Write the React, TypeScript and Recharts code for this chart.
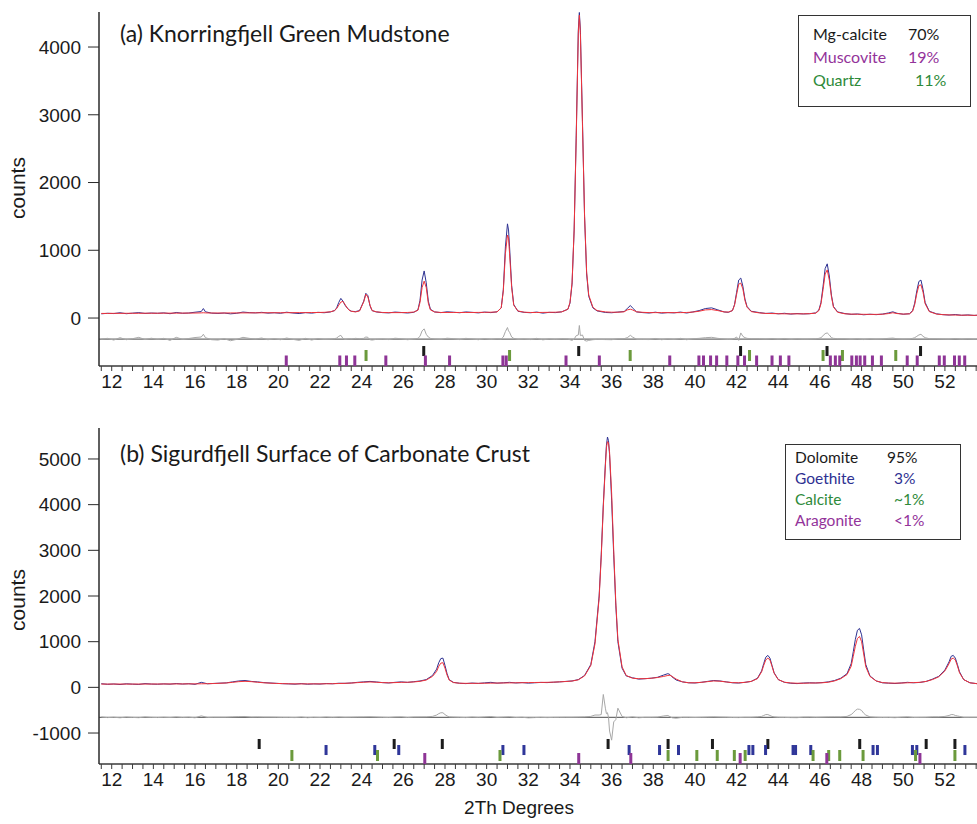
import { ComposedChart, Line, Scatter, XAxis, YAxis, ReferenceLine } from "recharts";

// ---------- panel (a) Knorringfjell Green Mudstone ----------
const twoThetaA = [
  11.5, 11.8, 12.1, 12.4, 12.7, 13.0, 13.3, 13.6, 13.9, 14.2,
  14.5, 14.8, 15.1, 15.4, 15.7, 16.0, 16.3, 16.4, 16.5, 16.8,
  17.1, 17.4, 17.7, 18.0, 18.3, 18.6, 18.9, 19.2, 19.5, 19.8,
  20.1, 20.4, 20.7, 21.0, 21.3, 21.6, 21.9, 22.2, 22.5, 22.7,
  22.8, 22.9, 23.0, 23.1, 23.2, 23.3, 23.4, 23.5, 23.7, 23.9,
  24.1, 24.2, 24.3, 24.4, 24.5, 24.7, 25.0, 25.3, 25.6, 25.9,
  26.2, 26.5, 26.7, 26.8, 26.9, 27.0, 27.1, 27.2, 27.3, 27.5,
  27.8, 28.1, 28.4, 28.7, 29.0, 29.3, 29.6, 29.9, 30.2, 30.5,
  30.7, 30.8, 30.9, 31.0, 31.05, 31.1, 31.2, 31.3, 31.5, 31.8,
  32.1, 32.4, 32.7, 33.0, 33.3, 33.6, 33.9, 34.0, 34.1, 34.2,
  34.3, 34.4, 34.45, 34.5, 34.6, 34.7, 34.8, 34.9, 35.1, 35.3,
  35.7, 36.0, 36.3, 36.6, 36.75, 36.9, 37.0, 37.2, 37.5, 37.8,
  38.1, 38.4, 38.7, 39.0, 39.3, 39.6, 39.9, 40.2, 40.5, 40.8,
  41.1, 41.4, 41.6, 41.8, 41.9, 42.0, 42.1, 42.2, 42.3, 42.4,
  42.5, 42.7, 43.1, 43.4, 43.7, 44.0, 44.3, 44.6, 44.9, 45.2,
  45.5, 45.8, 45.95, 46.05, 46.15, 46.25, 46.35, 46.45, 46.55, 46.65,
  46.85, 47.2, 47.5, 47.8, 48.1, 48.4, 48.7, 49.0, 49.3, 49.5,
  49.7, 50.0, 50.3, 50.45, 50.55, 50.65, 50.75, 50.85, 50.95, 51.05,
  51.25, 51.6, 51.9, 52.2, 52.5, 52.8, 53.1, 53.4, 53.55,
];
const observedA = [
  62, 70, 66, 78, 64, 72, 80, 68, 74, 70,
  76, 64, 82, 70, 74, 86, 96, 140, 92, 72,
  68, 74, 62, 70, 88, 80, 76, 84, 72, 78,
  70, 86, 74, 66, 80, 72, 84, 78, 90, 110,
  150, 230, 290, 250, 190, 150, 120, 100, 95, 110,
  250, 365, 330, 180, 110, 90, 80, 76, 88, 82,
  74, 84, 120, 260, 560, 695, 520, 250, 130, 90,
  80, 92, 86, 78, 90, 84, 76, 88, 80, 92,
  150, 420, 1050, 1390, 1300, 1050, 480, 200, 100, 84,
  78, 88, 72, 84, 80, 92, 130, 220, 500, 1300,
  2700, 4250, 4510, 4250, 2900, 1500, 650, 320, 150, 105,
  82, 78, 88, 96, 140, 185, 150, 90, 80, 74,
  86, 72, 80, 76, 88, 74, 90, 110, 140, 150,
  120, 90, 84, 110, 200, 380, 560, 590, 470, 280,
  170, 100, 80, 68, 74, 62, 70, 58, 66, 60,
  64, 76, 120, 230, 470, 730, 800, 620, 340, 170,
  90, 66, 54, 60, 48, 56, 50, 58, 76, 92,
  70, 56, 64, 110, 220, 400, 540, 560, 420, 230,
  100, 62, 50, 44, 52, 40, 46, 38, 42,
];
const calculatedA = [
  68, 68, 69, 69, 70, 70, 70, 71, 71, 71,
  72, 72, 72, 73, 73, 74, 76, 78, 76, 74,
  74, 74, 75, 75, 76, 76, 77, 77, 78, 78,
  78, 79, 79, 80, 80, 81, 82, 84, 92, 110,
  140, 190, 235, 245, 200, 150, 115, 100, 90, 105,
  240, 350, 310, 190, 110, 92, 82, 80, 80, 80,
  82, 88, 115, 230, 450, 545, 450, 220, 120, 90,
  82, 82, 82, 82, 82, 82, 83, 84, 86, 90,
  150, 400, 950, 1225, 1180, 950, 450, 190, 105, 86,
  82, 82, 83, 84, 86, 90, 130, 230, 520, 1300,
  2650, 4200, 4470, 4200, 2850, 1520, 680, 340, 160, 110,
  90, 86, 86, 92, 120, 130, 120, 92, 84, 80,
  80, 80, 80, 80, 80, 82, 88, 100, 120, 125,
  110, 90, 88, 110, 190, 350, 500, 515, 430, 260,
  160, 95, 75, 68, 66, 64, 62, 62, 62, 62,
  64, 72, 110, 210, 420, 650, 710, 560, 320, 160,
  85, 62, 58, 56, 55, 54, 54, 56, 66, 78,
  66, 58, 62, 100, 200, 360, 480, 490, 380, 210,
  95, 58, 50, 46, 44, 42, 42, 40, 40,
];
const differenceA = [
  0, 10, -15, 20, -10, 5, 25, -8, 12, -5,
  10, -20, 25, -5, 8, 22, 30, 70, 20, -10,
  -15, 5, -25, -5, 25, 10, 0, 15, -10, 5,
  -10, 15, -5, -20, 10, -15, 8, -5, 0, 5,
  15, 40, 55, 10, -5, 0, 5, 0, 10, 5,
  10, 30, 25, -10, -15, -5, 0, -8, 12, 4,
  -10, 0, 10, 40, 120, 150, 70, 30, 10, 0,
  -5, 12, 5, -8, 10, 2, -10, 6, -6, 4,
  0, 30, 110, 170, 120, 100, 30, 10, -5, 0,
  -8, 10, -12, 2, -6, 4, 0, -10, -20, 0,
  50, 60, 200, 50, 60, -20, -30, -20, -10, -5,
  -8, -10, 4, 6, 20, 55, 30, -5, -6, -8,
  8, -10, 2, -6, 10, -10, 4, 10, 20, 25,
  10, 0, -6, 0, 10, 30, -20, 90, 40, 20,
  10, 5, 5, 0, 8, -2, 8, -4, 4, -2,
  0, 4, 10, 20, 50, 80, 90, 60, 20, 10,
  5, 4, -4, 4, -8, 2, -4, 2, 10, 14,
  4, -2, 2, 10, 20, 40, 60, 70, 40, 20,
  5, 4, 0, -2, 8, -2, 4, -2, 2,
];
const mgCalciteTicks = [26.98, 34.42, 42.19, 46.34, 50.83];
const muscoviteTicks = [
  20.38, 22.95, 23.27, 23.67, 25.16, 27.06, 28.22, 30.78, 30.94, 33.81,
  35.41, 38.79, 40.19, 40.41, 40.75, 41.04, 41.53, 42.06, 42.38, 42.96,
  43.7, 44.1, 44.51, 46.5, 46.74, 46.95, 47.53, 47.75, 47.93, 48.15,
  48.52, 48.95, 50.19, 50.67, 51.73, 51.97, 52.46, 52.69, 52.95,
];
const quartzTicks = [24.21, 31.1, 36.89, 42.62, 46.15, 47.08, 49.64];

// ---------- panel (b) Sigurdfjell Surface of Carbonate Crust ----------
const twoThetaB = [
  11.5, 11.8, 12.1, 12.4, 12.7, 13.0, 13.3, 13.6, 13.9, 14.2,
  14.5, 14.8, 15.1, 15.4, 15.7, 16.0, 16.3, 16.6, 16.9, 17.2,
  17.5, 17.8, 18.1, 18.4, 18.7, 19.0, 19.3, 19.6, 19.9, 20.2,
  20.5, 20.8, 21.1, 21.4, 21.7, 22.0, 22.3, 22.6, 22.9, 23.2,
  23.5, 23.8, 24.1, 24.4, 24.7, 25.0, 25.3, 25.6, 25.9, 26.2,
  26.5, 26.8, 27.1, 27.4, 27.6, 27.7, 27.8, 27.9, 28.0, 28.1,
  28.2, 28.4, 28.7, 29.0, 29.3, 29.6, 29.9, 30.2, 30.5, 30.8,
  31.1, 31.4, 31.7, 32.0, 32.3, 32.6, 32.9, 33.2, 33.5, 33.8,
  34.1, 34.4, 34.7, 35.0, 35.2, 35.4, 35.5, 35.6, 35.7, 35.75,
  35.8, 35.85, 35.9, 36.0, 36.1, 36.2, 36.3, 36.5, 36.7, 37.0,
  37.3, 37.6, 37.9, 38.2, 38.5, 38.7, 38.8, 38.9, 39.1, 39.4,
  39.7, 40.0, 40.3, 40.6, 40.9, 41.2, 41.5, 41.8, 42.1, 42.4,
  42.7, 43.0, 43.2, 43.3, 43.4, 43.5, 43.6, 43.7, 43.8, 44.0,
  44.3, 44.6, 44.9, 45.2, 45.5, 45.8, 46.1, 46.4, 46.7, 47.0,
  47.3, 47.5, 47.6, 47.7, 47.8, 47.9, 48.0, 48.1, 48.2, 48.4,
  48.7, 49.0, 49.3, 49.6, 49.9, 50.2, 50.5, 50.8, 51.1, 51.4,
  51.7, 52.0, 52.2, 52.3, 52.4, 52.5, 52.6, 52.7, 52.9, 53.2,
  53.55,
];
const observedB = [
  80, 66, 74, 62, 78, 70, 64, 82, 72, 68,
  76, 70, 84, 72, 80, 66, 110, 78, 86, 92,
  98, 120, 140, 150, 130, 120, 104, 96, 88, 80,
  76, 70, 82, 68, 76, 72, 84, 78, 90, 88,
  96, 110, 120, 130, 118, 104, 96, 110, 120, 108,
  124, 140, 170, 260, 400, 540, 630, 640, 480, 300,
  170, 110, 90, 82, 94, 86, 98, 110, 92, 100,
  110, 96, 104, 92, 100, 108, 104, 112, 120, 130,
  140, 170, 260, 500, 1000, 2000, 2900, 4000, 4900, 5300,
  5480, 5400, 5100, 4100, 2900, 1800, 1000, 420, 250, 210,
  180, 190, 200, 220, 270, 300, 280, 230, 160, 120,
  100, 96, 110, 130, 150, 140, 120, 100, 94, 110,
  130, 200, 360, 520, 660, 700, 640, 480, 320, 170,
  110, 90, 82, 94, 100, 96, 104, 120, 150, 200,
  300, 520, 780, 1050, 1250, 1290, 1150, 820, 500, 250,
  140, 100, 92, 84, 96, 110, 100, 108, 130, 180,
  240, 380, 560, 680, 700, 640, 500, 340, 170, 100,
  80,
];
const calculatedB = [
  72, 72, 72, 72, 72, 72, 72, 73, 73, 73,
  74, 74, 75, 75, 76, 76, 78, 80, 84, 90,
  96, 110, 125, 132, 125, 112, 100, 92, 86, 82,
  78, 76, 76, 76, 76, 76, 78, 80, 84, 88,
  94, 104, 112, 118, 112, 104, 100, 104, 110, 112,
  118, 132, 160, 240, 350, 460, 530, 540, 420, 270,
  160, 105, 90, 88, 88, 88, 90, 92, 94, 96,
  98, 100, 102, 104, 106, 108, 110, 114, 120, 128,
  138, 165, 250, 480, 950, 1950, 2850, 3950, 4850, 5250,
  5380, 5350, 5150, 4250, 3000, 1850, 1050, 450, 260, 200,
  190, 190, 200, 215, 240, 260, 265, 240, 180, 120,
  100, 100, 110, 125, 140, 135, 118, 104, 100, 110,
  130, 190, 340, 480, 600, 640, 600, 460, 310, 170,
  112, 96, 90, 90, 94, 96, 100, 112, 140, 190,
  280, 460, 680, 900, 1070, 1115, 1000, 730, 450, 240,
  140, 104, 94, 92, 94, 100, 104, 110, 130, 170,
  230, 360, 520, 620, 640, 600, 470, 320, 170, 100,
  80,
];
const differenceB = [
  8, -6, 2, -10, 6, -2, -8, 9, -1, -5,
  2, -4, 9, -3, 4, -10, 32, -2, 2, 2,
  2, 10, 15, 18, 5, 8, 4, 4, 2, -2,
  -2, -6, 6, -8, 0, -4, 6, -2, 6, 0,
  2, 6, 8, 12, 6, 0, -4, 6, 10, -4,
  6, 8, 10, 20, 50, 80, 100, 100, 60, 30,
  10, 5, 0, -6, 6, -2, 8, 18, -2, 4,
  12, -4, 2, -12, -6, 0, -6, -2, 0, 2,
  2, 5, 10, 20, 50, 50, 60, 500, 200, 80,
  100, 0, -300, -500, -100, -50, 200, 20, -10, 10,
  -10, 0, 0, 5, 30, 40, 15, -10, -20, 0,
  0, -4, 0, 5, 10, 5, 2, -4, -6, 0,
  0, 10, 20, 40, 60, 60, 40, 20, 10, 0,
  -2, -6, -8, 4, 6, 0, 4, 8, 10, 10,
  20, 60, 100, 150, 180, 175, 150, 90, 50, 10,
  0, -4, -2, -8, 2, 10, -4, -2, 0, 10,
  10, 20, 40, 60, 60, 40, 30, 20, 0, 0,
  0,
];
const dolomiteTicks = [19.08, 25.56, 27.87, 35.83, 38.71, 40.84, 43.5, 47.91, 51.1, 52.48];
const goethiteTicks = [
  22.29, 24.63, 25.78, 30.78, 31.79, 36.84, 38.3, 39.21, 42.59, 42.78,
  43.39, 44.71, 44.83, 45.56, 48.55, 48.76, 50.44, 50.65, 52.96,
];
const calciteTicks = [20.65, 24.76, 30.64, 38.71, 40.09, 41.07, 41.89, 42.41, 45.67, 46.42, 46.95, 48.07, 50.59, 52.48];
const aragoniteTicks = [27.03, 34.42, 36.92, 42.17, 46.33, 50.8];

// axis ticks
const xTicks = [
  11.5, 12, 12.5, 13, 13.5, 14, 14.5, 15, 15.5, 16, 16.5, 17, 17.5, 18, 18.5, 19, 19.5, 20, 20.5, 21, 21.5,
  22, 22.5, 23, 23.5, 24, 24.5, 25, 25.5, 26, 26.5, 27, 27.5, 28, 28.5, 29, 29.5, 30, 30.5, 31, 31.5,
  32, 32.5, 33, 33.5, 34, 34.5, 35, 35.5, 36, 36.5, 37, 37.5, 38, 38.5, 39, 39.5, 40, 40.5, 41, 41.5,
  42, 42.5, 43, 43.5, 44, 44.5, 45, 45.5, 46, 46.5, 47, 47.5, 48, 48.5, 49, 49.5, 50, 50.5, 51, 51.5,
  52, 52.5, 53, 53.5,
];
const yTicksA = [0, 1000, 2000, 3000, 4000];
const yTicksB = [-1000, 0, 1000, 2000, 3000, 4000, 5000];

const X_DOMAIN = [11.39, 53.54];
const ARIAL = "'Liberation Sans', Arial, sans-serif";
const CALIBRI = "Lato, 'Open Sans', sans-serif";

type TickRow = { name: string; positions: number[]; level: number; color: string; h: number };

function Panel(props: {
  twoTheta: number[];
  observed: number[];
  calculated: number[];
  difference: number[];
  diffOffset: number;
  yDomain: number[];
  yTicks: number[];
  rows: TickRow[];
  height: number;
  top: number;
  axisHeight: number;
}) {
  const { twoTheta, observed, calculated, difference, diffOffset, yDomain, yTicks, rows, height, top, axisHeight } = props;
  const table = twoTheta.map((x, i) => ({
    x,
    obs: observed[i],
    calc: calculated[i],
    diff: diffOffset + difference[i],
  }));

  return (
    <ComposedChart width={977} height={height} data={table} margin={{ top, right: 0, bottom: 0, left: 0 }}>
      <XAxis
        dataKey="x"
        type="number"
        domain={X_DOMAIN}
        allowDataOverflow
        ticks={xTicks}
        interval={0}
        tickFormatter={(v: number) => (v % 2 === 0 ? String(v) : "")}
        tickSize={5}
        tickMargin={4}
        height={axisHeight}
        axisLine={{ stroke: "#3a3a3a", strokeWidth: 1.5 }}
        tickLine={{ stroke: "#3a3a3a" }}
        tick={{ fill: "#1a1a1a", fontSize: 19, fontFamily: ARIAL }}
      />
      <YAxis
        type="number"
        domain={yDomain}
        allowDataOverflow
        ticks={yTicks}
        interval={0}
        width={99}
        tickSize={11}
        tickMargin={7}
        axisLine={{ stroke: "#2a2a2a", strokeWidth: 1.5 }}
        tickLine={{ stroke: "#2a2a2a" }}
        tick={{ fill: "#1a1a1a", fontSize: 19, fontFamily: ARIAL }}
      />
      <ReferenceLine y={diffOffset} stroke="#6f6f6f" strokeWidth={1.3} />
      <Line type="linear" dataKey="diff" stroke="#a8a8a8" strokeWidth={1} dot={false} isAnimationActive={false} />
      <Line type="linear" dataKey="obs" stroke="#2e3192" strokeWidth={1} dot={false} isAnimationActive={false} />
      <Line type="linear" dataKey="calc" stroke="#f0333a" strokeWidth={1} dot={false} isAnimationActive={false} />
      {rows.map((r) => (
        <Scatter
          key={r.name}
          name={r.name}
          data={r.positions.map((x) => ({ x, y: r.level }))}
          dataKey="y"
          isAnimationActive={false}
          shape={(p: any) => (
            <rect x={p.cx - 1.5} y={p.cy - r.h / 2} width={3} height={r.h} fill={r.color} />
          )}
        />
      ))}
    </ComposedChart>
  );
}

const abs = (left: number, top: number, extra: any = {}) => ({ position: "absolute" as const, left, top, ...extra });

export default function App() {
  const rowsA: TickRow[] = [
    { name: "Mg-calcite", positions: mgCalciteTicks, level: -487, color: "#1c1c1c", h: 10 },
    { name: "Quartz", positions: quartzTicks, level: -553, color: "#6b9a3c", h: 11 },
    { name: "Muscovite", positions: muscoviteTicks, level: -634, color: "#8e3596", h: 11 },
  ];
  const rowsB: TickRow[] = [
    { name: "Dolomite", positions: dolomiteTicks, level: -1240, color: "#1c1c1c", h: 10 },
    { name: "Goethite", positions: goethiteTicks, level: -1372, color: "#2f3699", h: 10 },
    { name: "Calcite", positions: calciteTicks, level: -1492, color: "#6b9a3c", h: 11 },
    { name: "Aragonite", positions: aragoniteTicks, level: -1558, color: "#8e3596", h: 11 },
  ];

  return (
    <div style={{ position: "absolute", left: 0, top: 0, width: 977, height: 824, background: "#fff", overflow: "hidden" }}>
      <div style={abs(0, 0)}>
        <Panel
          twoTheta={twoThetaA}
          observed={observedA}
          calculated={calculatedA}
          difference={differenceA}
          diffOffset={-310}
          yDomain={[-708, 4517]}
          yTicks={yTicksA}
          rows={rowsA}
          height={400}
          top={12}
          axisHeight={34}
        />
      </div>
      <div style={abs(0, 400)}>
        <Panel
          twoTheta={twoThetaB}
          observed={observedB}
          calculated={calculatedB}
          difference={differenceB}
          diffOffset={-656}
          yDomain={[-1678, 5678]}
          yTicks={yTicksB}
          rows={rowsB}
          height={400}
          top={28}
          axisHeight={36}
        />
      </div>

      {/* titles */}
      <div style={abs(120, 19, { fontFamily: CALIBRI, fontSize: 23, lineHeight: "28px", color: "#1a1a1a", whiteSpace: "nowrap" })}>
        (a) Knorringfjell Green Mudstone
      </div>
      <div style={abs(120, 439, { fontFamily: CALIBRI, fontSize: 23, lineHeight: "28px", color: "#1a1a1a", whiteSpace: "nowrap" })}>
        (b) Sigurdfjell Surface of Carbonate Crust
      </div>

      {/* axis titles */}
      {[188, 600].map((cy) => (
        <div
          key={cy}
          style={abs(18, cy, {
            fontFamily: ARIAL,
            fontSize: 21,
            color: "#1a1a1a",
            transform: "translate(-50%, -50%) rotate(-90deg)",
            whiteSpace: "nowrap",
          })}
        >
          counts
        </div>
      ))}
      <div style={abs(519, 808, { fontFamily: ARIAL, fontSize: 19, color: "#1a1a1a", transform: "translate(-50%, -50%)", whiteSpace: "nowrap" })}>
        2Th Degrees
      </div>

      {/* legend (a) */}
      <div
        style={abs(798, 15, {
          width: 173,
          height: 92,
          border: "1px solid #333",
          boxSizing: "border-box",
          padding: "6px 0 0 14px",
          fontFamily: CALIBRI,
          fontSize: 16,
          lineHeight: "23px",
        })}
      >
        <div style={{ color: "#1a1a1a" }}><span style={{ display: "inline-block", width: 95 }}>Mg-calcite</span>70%</div>
        <div style={{ color: "#93339a" }}><span style={{ display: "inline-block", width: 95 }}>Muscovite</span>19%</div>
        <div style={{ color: "#2e8a3a" }}><span style={{ display: "inline-block", width: 102 }}>Quartz</span>11%</div>
      </div>

      {/* legend (b) */}
      <div
        style={abs(785, 444, {
          width: 176,
          height: 96,
          border: "1px solid #333",
          boxSizing: "border-box",
          padding: "2px 0 0 9px",
          fontFamily: CALIBRI,
          fontSize: 15.5,
          lineHeight: "21px",
        })}
      >
        <div style={{ color: "#1a1a1a" }}><span style={{ display: "inline-block", width: 92 }}>Dolomite</span>95%</div>
        <div style={{ color: "#2e3192" }}><span style={{ display: "inline-block", width: 99 }}>Goethite</span>3%</div>
        <div style={{ color: "#2e8a3a" }}><span style={{ display: "inline-block", width: 99 }}>Calcite</span>~1%</div>
        <div style={{ color: "#93339a" }}><span style={{ display: "inline-block", width: 99 }}>Aragonite</span>&lt;1%</div>
      </div>
    </div>
  );
}
